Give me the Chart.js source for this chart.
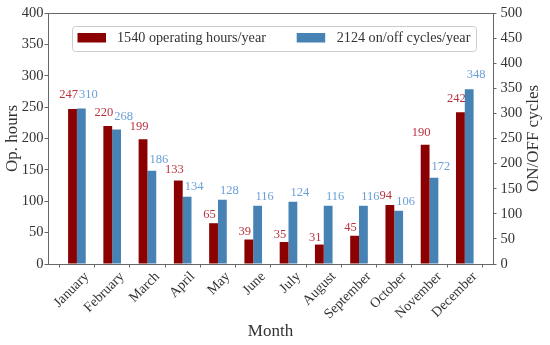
<!DOCTYPE html>
<html>
<head>
<meta charset="utf-8">
<script src="https://cdn.jsdelivr.net/npm/chart.js@4.4.1/dist/chart.umd.min.js"></script>
<style>
  html, body { margin: 0; padding: 0; background: #fff; }
</style>
</head>
<body>
<canvas id="monthChart" width="550" height="345"></canvas>
<script>
const months = ['January', 'February', 'March', 'April', 'May', 'June', 'July',
                'August', 'September', 'October', 'November', 'December'];
const opHours = [247, 220, 199, 133, 65, 39, 35, 31, 45, 94, 190, 242];
const cycles = [310, 268, 186, 134, 128, 116, 124, 116, 116, 106, 172, 348];
const seriesNames = ['1540 operating hours/year', '2124 on/off cycles/year'];
const hoursRange = [0, 400];
const cyclesRange = [0, 500];
const tickStep = 50;

const SERIF = '"Liberation Serif", "DejaVu Serif", serif';
const AXIS_COLOR = '#666';
const TEXT_COLOR = '#333';
const RED = '#8b0000';
const BLUE = '#4682b4';
const RED_TEXT = '#b8333d';
const BLUE_TEXT = '#6a9fd6';

// value labels over the bars (drawn before the bars, so bars can cover them)
const valueLabels = {
    id: 'valueLabels',
    beforeDatasetsDraw(chart) {
        const ctx = chart.ctx;
        ctx.save();
        ctx.font = '12.5px ' + SERIF;
        ctx.textAlign = 'center';
        ctx.textBaseline = 'alphabetic';
        chart.data.datasets.forEach((ds, i) => {
            const meta = chart.getDatasetMeta(i);
            const dx = i === 0 ? -4 : 7;
            ctx.fillStyle = i === 0 ? RED_TEXT : BLUE_TEXT;
            meta.data.forEach((bar, j) => {
                const gap = 3 + 0.05 * (bar.base - bar.y);
                ctx.fillText(String(ds.data[j].y), bar.x + dx, bar.y - gap);
            });
        });
        ctx.restore();
    }
};

// frame, right axis title and boxed legend
const frameAndLegend = {
    id: 'frameAndLegend',
    afterDraw(chart) {
        const ctx = chart.ctx;
        const a = chart.chartArea;
        ctx.save();
        ctx.strokeStyle = AXIS_COLOR;
        ctx.lineWidth = 1;
        ctx.strokeRect(a.left + 0.5, a.top + 0.5, a.right - a.left, a.bottom - a.top);

        // right y title, reads bottom to top
        ctx.fillStyle = TEXT_COLOR;
        ctx.font = '17px ' + SERIF;
        ctx.textAlign = 'center';
        ctx.textBaseline = 'middle';
        ctx.translate(534, (a.top + a.bottom) / 2);
        ctx.rotate(-Math.PI / 2);
        ctx.fillText('ON/OFF cycles', 0, 0);
        ctx.restore();

        // legend
        ctx.save();
        const bx = 72.5, by = 26.5, bw = 404, bh = 25;
        ctx.beginPath();
        ctx.roundRect(bx, by, bw, bh, 3);
        ctx.fillStyle = 'rgba(255,255,255,0.85)';
        ctx.fill();
        ctx.strokeStyle = '#cccccc';
        ctx.stroke();
        const items = [
            { color: RED, sx: 77.5, tx: 117 },
            { color: BLUE, sx: 296.7, tx: 336.7 }
        ];
        ctx.font = '14.2px ' + SERIF;
        ctx.textAlign = 'left';
        ctx.textBaseline = 'middle';
        items.forEach((it, i) => {
            ctx.fillStyle = it.color;
            ctx.fillRect(it.sx, 33, 28.5, 9.5);
            ctx.fillStyle = TEXT_COLOR;
            ctx.fillText(seriesNames[i], it.tx, 38.5);
        });
        ctx.restore();
    }
};

function noPad(scale) {
    scale.paddingLeft = 0;
    scale.paddingRight = 0;
    scale.paddingTop = 0;
    scale.paddingBottom = 0;
}

new Chart(document.getElementById('monthChart'), {
    type: 'bar',
    data: {
        datasets: [{
            label: seriesNames[0],
            data: opHours.map((v, i) => ({ x: i, y: v })),
            backgroundColor: RED,
            yAxisID: 'y',
            categoryPercentage: 0.5,
            barPercentage: 1.0
        }, {
            label: seriesNames[1],
            data: cycles.map((v, i) => ({ x: i, y: v })),
            backgroundColor: BLUE,
            yAxisID: 'y2',
            categoryPercentage: 0.5,
            barPercentage: 1.0
        }]
    },
    options: {
        responsive: false,
        animation: false,
        layout: { padding: { top: 13, left: 0, right: 0, bottom: 0 } },
        plugins: {
            legend: { display: false },
            tooltip: { enabled: false }
        },
        scales: {
            x: {
                type: 'linear',
                min: -0.82,
                max: 11.8,
                offset: false,
                afterBuildTicks: s => { s.ticks = months.map((m, i) => ({ value: i })); },
                afterFit: s => { s.height = 81; noPad(s); },
                border: { display: false },
                grid: { drawOnChartArea: false, tickLength: 3.5, color: AXIS_COLOR },
                ticks: {
                    autoSkip: false,
                    maxRotation: 45,
                    minRotation: 45,
                    labelOffset: 10,
                    padding: 1,
                    color: TEXT_COLOR,
                    font: { family: SERIF, size: 14 },
                    callback: (v, i) => months[i]
                },
                title: {
                    display: true,
                    text: 'Month',
                    color: TEXT_COLOR,
                    font: { family: SERIF, size: 17 },
                    padding: { top: 0, bottom: 3 }
                }
            },
            y: {
                position: 'left',
                min: hoursRange[0],
                max: hoursRange[1],
                afterFit: s => { s.width = 48; noPad(s); },
                border: { display: false },
                grid: { drawOnChartArea: false, tickLength: 3.5, color: AXIS_COLOR },
                ticks: {
                    stepSize: tickStep,
                    padding: 1,
                    color: TEXT_COLOR,
                    font: { family: SERIF, size: 14.5 }
                },
                title: {
                    display: true,
                    text: 'Op. hours',
                    color: TEXT_COLOR,
                    font: { family: SERIF, size: 17 },
                    padding: { top: 2, bottom: 0 }
                }
            },
            y2: {
                position: 'right',
                min: cyclesRange[0],
                max: cyclesRange[1],
                afterFit: s => { s.width = 57; noPad(s); },
                border: { display: false },
                grid: { drawOnChartArea: false, tickLength: 3.5, color: AXIS_COLOR },
                ticks: {
                    stepSize: tickStep,
                    padding: 4,
                    color: TEXT_COLOR,
                    font: { family: SERIF, size: 14.5 }
                }
            }
        }
    },
    plugins: [valueLabels, frameAndLegend]
});
</script>
</body>
</html>
